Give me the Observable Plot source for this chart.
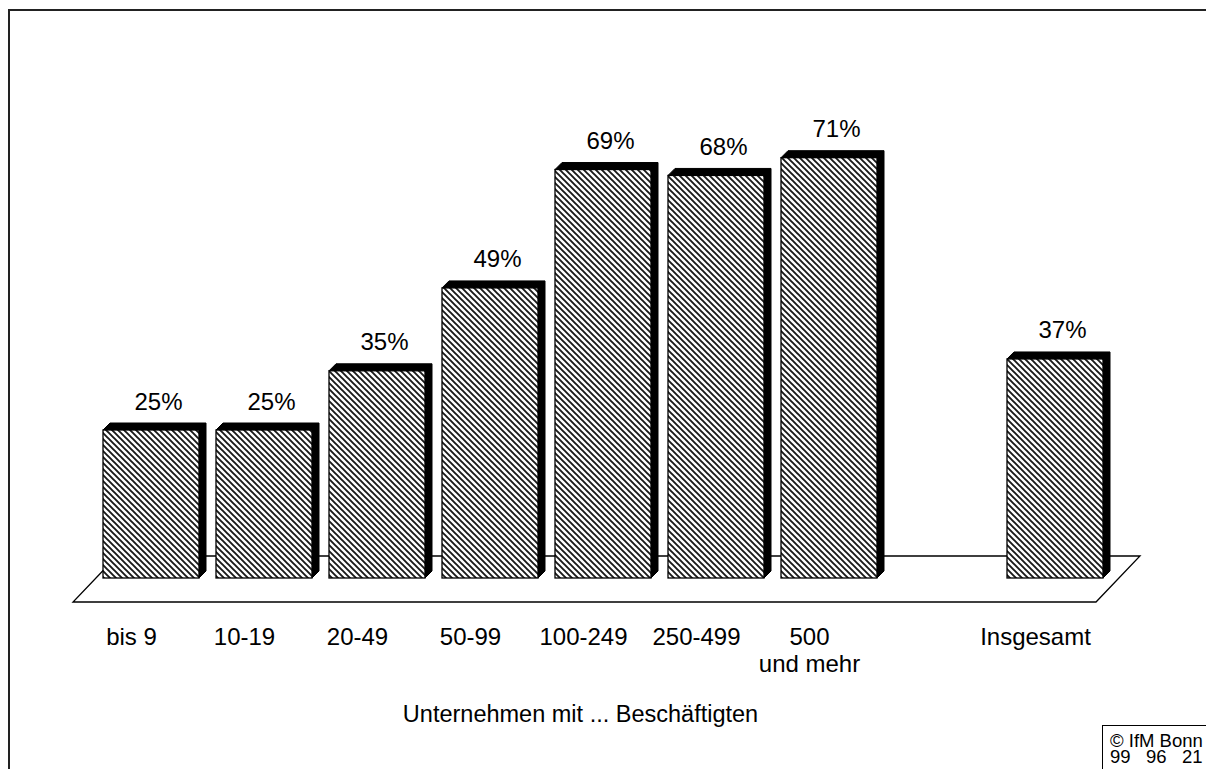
<!DOCTYPE html>
<html>
<head>
<meta charset="utf-8">
<script src="https://cdn.jsdelivr.net/npm/d3@7"></script>
<script src="https://cdn.jsdelivr.net/npm/@observablehq/plot@0.6"></script>
<style>
html, body { margin: 0; padding: 0; background: #fff; overflow: hidden; }
#wrap { position: relative; width: 1206px; height: 769px; overflow: hidden; font-family: "Liberation Sans", Arial, sans-serif; }
#chart { position: absolute; left: 0; top: 0; }
#frame { position: absolute; left: 8px; top: 9px; width: 1300px; height: 900px; border-left: 2px solid #222; border-top: 2px solid #222; }
#credit { position: absolute; left: 1102px; top: 725px; width: 200px; height: 100px; border: 1px solid #000; background: #fff;
  font-size: 18.5px; line-height: 16px; padding: 7px 0 0 7px; color: #000; white-space: pre; }
</style>
</head>
<body>
<div id="wrap">
  <div id="chart"></div>
  <div id="frame"></div>
  <div id="credit">© IfM Bonn
99   96   21</div>
</div>
<script>
// ---- data ----
const sizeClasses = ["bis 9", "10-19", "20-49", "50-99", "100-249", "250-499", "500\nund mehr"];
const sizeShares  = [25, 25, 35, 49, 69, 68, 71];
const totalLabel  = "Insgesamt";
const totalShare  = 37;
const axisTitle   = "Unternehmen mit ... Beschäftigten";

const rows = [
  ...sizeClasses.map((c, i) => ({cat: c, v: sizeShares[i]})),
  {cat: totalLabel, v: totalShare}
];
const xDomain = [...sizeClasses, "__gap__", totalLabel];

const FONT = "Liberation Sans, Arial, sans-serif";
const DEPTH = 7;

// floor parallelogram + hatch pattern definition
function floorMark(index, scales, values, dim) {
  const g = d3.create("svg:g");
  const P = 6;
  const pat = g.append("defs").append("pattern")
    .attr("id", "hatch").attr("patternUnits", "userSpaceOnUse")
    .attr("width", P).attr("height", P);
  pat.append("rect").attr("width", P).attr("height", P).attr("fill", "#fff");
  pat.append("path").attr("d", `M-1,-1L${P + 1},${P + 1}M-1,${P - 1}L1,${P + 1}M${P - 1},-1L${P + 1},1`)
    .attr("stroke", "#1a1a1a").attr("stroke-width", 1.9).attr("fill", "none");
  const y0 = scales.y(0);
  const L = dim.marginLeft, R = dim.width - dim.marginRight;
  const fy = y0 + 24, by = y0 - 22;
  g.append("path")
    .attr("d", `M${L - 21.5},${fy}L${R - 15.5},${fy}L${R + 28.5},${by}L${L + 22.5},${by}Z`)
    .attr("fill", "#fff").attr("stroke", "#000").attr("stroke-width", 1.3);
  return g.node();
}

// black top + side faces of each bar
function facesMark(index, scales) {
  const x = scales.x, y = scales.y;
  const bw = typeof x.bandwidth === "function" ? x.bandwidth() : 96;
  const y0 = y(0), d = DEPTH;
  const g = d3.create("svg:g");
  for (const r of rows) {
    const x0 = x(r.cat), x1 = x0 + bw, yt = y(r.v);
    g.append("path")
      .attr("d", `M${x0},${yt}L${x0 + d},${yt - d}L${x1 + d},${yt - d}L${x1 + d},${y0 - d}L${x1},${y0}L${x1},${yt}Z`)
      .attr("fill", "#000").attr("stroke", "#000").attr("stroke-width", 1);
  }
  return g.node();
}

const chart = Plot.plot({
  width: 1206,
  height: 769,
  marginLeft: 94.5,
  marginRight: 94.5,
  marginTop: 578 - 80 * 5.92,
  marginBottom: 191,
  style: {background: "transparent", fontFamily: FONT, color: "#000"},
  x: {type: "band", domain: xDomain, paddingInner: 0.15, paddingOuter: 0.075, axis: null},
  y: {domain: [0, 80], axis: null},
  marks: [
    floorMark,
    facesMark,
    Plot.barY(rows, {x: "cat", y: "v", fill: "url(#hatch)", stroke: "#000", strokeWidth: 1.3}),
    Plot.text(rows, {x: "cat", y: "v", text: d => d.v + "%", dx: 7, dy: -21, lineAnchor: "bottom",
      fontSize: 24, fill: "#000", fontFamily: FONT}),
    Plot.text(rows, {x: "cat", y: () => 0, text: "cat", dx: -20, dy: 47, lineAnchor: "top",
      lineHeight: 27 / 24, fontSize: 24, fill: "#000", fontFamily: FONT}),
    Plot.text([axisTitle], {frameAnchor: "bottom", text: d => d, dx: -23, dy: 143, lineAnchor: "bottom",
      fontSize: 23.5, fill: "#000", fontFamily: FONT})
  ]
});
document.getElementById("chart").appendChild(chart);
</script>
</body>
</html>
